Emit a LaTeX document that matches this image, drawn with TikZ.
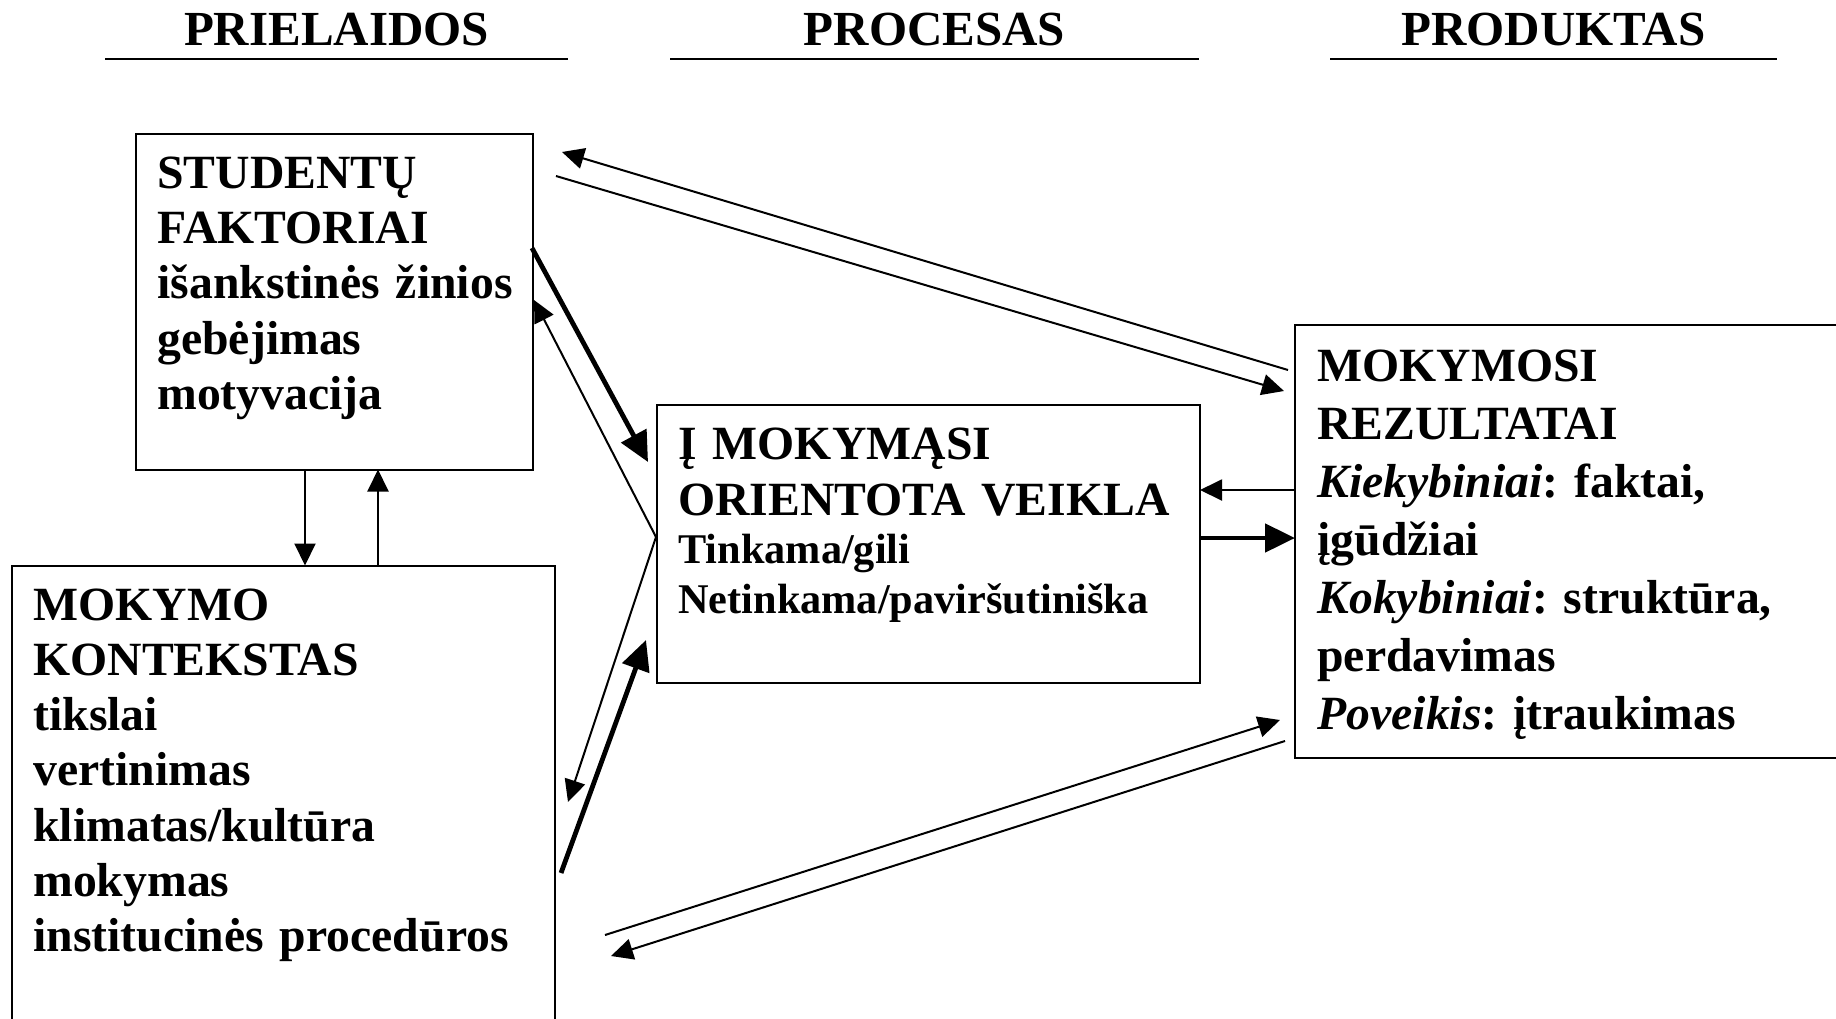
\documentclass[tikz,border=0pt]{standalone}
\usepackage{fontspec}
\setmainfont{Liberation Serif}
\usetikzlibrary{arrows.meta}
\frenchspacing
\begin{document}
\frenchspacing
\begin{tikzpicture}[x=0.5pt,y=-0.5pt,
  box/.style={draw, line width=1pt, inner sep=0pt, outer sep=0pt, anchor=north west},
  thinarrow/.style={line width=1pt, -{Triangle[length=11pt,width=10.5pt]}},
  boldarrow/.style={line width=2.4pt, -{Triangle[length=15pt,width=14pt]}},
  txt/.style={anchor=base west, inner sep=0pt, align=left, font=\fontsize{23.85}{27.65}\selectfont\bfseries},
  head/.style={anchor=base, inner sep=0pt, font=\fontsize{24.5}{28}\selectfont\bfseries},
  hrule/.style={line width=1.3pt}]
\useasboundingbox (0,0) rectangle (1836,1018);
\clip (0,0) rectangle (1836,1018);

% headings
\node[head] (h1) at (336.5,45) {PRIELAIDOS};
\node[head] (h2) at (934.5,45) {PROCESAS};
\node[head] (h3) at (1553.5,45) {PRODUKTAS};
\draw[hrule] (105,59) -- (568,59);
\draw[hrule] (670,59) -- (1199,59);
\draw[hrule] (1330,59) -- (1777,59);

% boxes
\node[box, minimum width=198.5pt, minimum height=168pt] (sf) at (136,133.5) {};
\node[box, minimum width=271.5pt, minimum height=240pt] (mk) at (12,565.5) {};
\node[box, minimum width=271.5pt, minimum height=139pt] (pr) at (657,405) {};
\node[box, minimum width=280pt, minimum height=216.5pt] (re) at (1295,325) {};

% texts
\node[txt, text width=200pt] (sft) at (157,188.3)
  {STUDENTŲ\\FAKTORIAI\\išankstinės žinios\\gebėjimas\\motyvacija};
\node[txt, text width=280pt] (mkt) at (33,620)
  {MOKYMO\\KONTEKSTAS\\tikslai\\vertinimas\\klimatas/kultūra\\mokymas\\institucinės procedūros};
\node[txt, text width=280pt, font=\fontsize{23.85}{28}\selectfont\bfseries] (prt) at (678,459)
  {Į MOKYMĄSI\\ORIENTOTA VEIKLA};
\node[txt, text width=280pt, font=\fontsize{21.15}{25}\selectfont\bfseries] (prs) at (678,563)
  {Tinkama/gili\\Netinkama/paviršutiniška};
\node[txt, text width=300pt, font=\fontsize{23.85}{29}\selectfont\bfseries] (ret) at (1317,381)
  {MOKYMOSI\\REZULTATAI\\\textit{Kiekybiniai}: faktai,\\įgūdžiai\\\textit{Kokybiniai}: struktūra,\\perdavimas\\\textit{Poveikis}: įtraukimas};

% connector end points
\coordinate (a1) at (1288,370); \coordinate (a2) at (562,152);
\coordinate (b1) at (556,176);  \coordinate (b2) at (1284,391);
\coordinate (c1) at (532,248);  \coordinate (c2) at (648,462);
\coordinate (v)  at (656,537);
\coordinate (d2) at (534,300);
\coordinate (e2) at (568,802);
\coordinate (f1) at (561,873);  \coordinate (f2) at (646,640);
\coordinate (g1) at (305,469.5); \coordinate (g2) at (305,565.5);
\coordinate (k1c) at (378,565.5); \coordinate (k2c) at (378,469.5);
\coordinate (i1) at (1295,490); \coordinate (i2) at (1200,490);
\coordinate (j1) at (1200,538); \coordinate (j2) at (1295,538);
\coordinate (m1) at (605,935);  \coordinate (m2) at (1280,720);
\coordinate (n1) at (1285,741); \coordinate (n2) at (611,956);

% connectors
\draw[thinarrow] (a1) -- (a2);
\draw[thinarrow] (b1) -- (b2);
\draw[boldarrow] (c1) -- (c2);
\draw[thinarrow] (v) -- (d2);
\draw[thinarrow] (v) -- (e2);
\draw[boldarrow] (f1) -- (f2);
\draw[thinarrow] (g1) -- (g2);
\draw[thinarrow] (k1c) -- (k2c);
\draw[thinarrow] (i1) -- (i2);
\draw[boldarrow] (j1) -- (j2);
\draw[thinarrow] (m1) -- (m2);
\draw[thinarrow] (n1) -- (n2);
\end{tikzpicture}
\end{document}
